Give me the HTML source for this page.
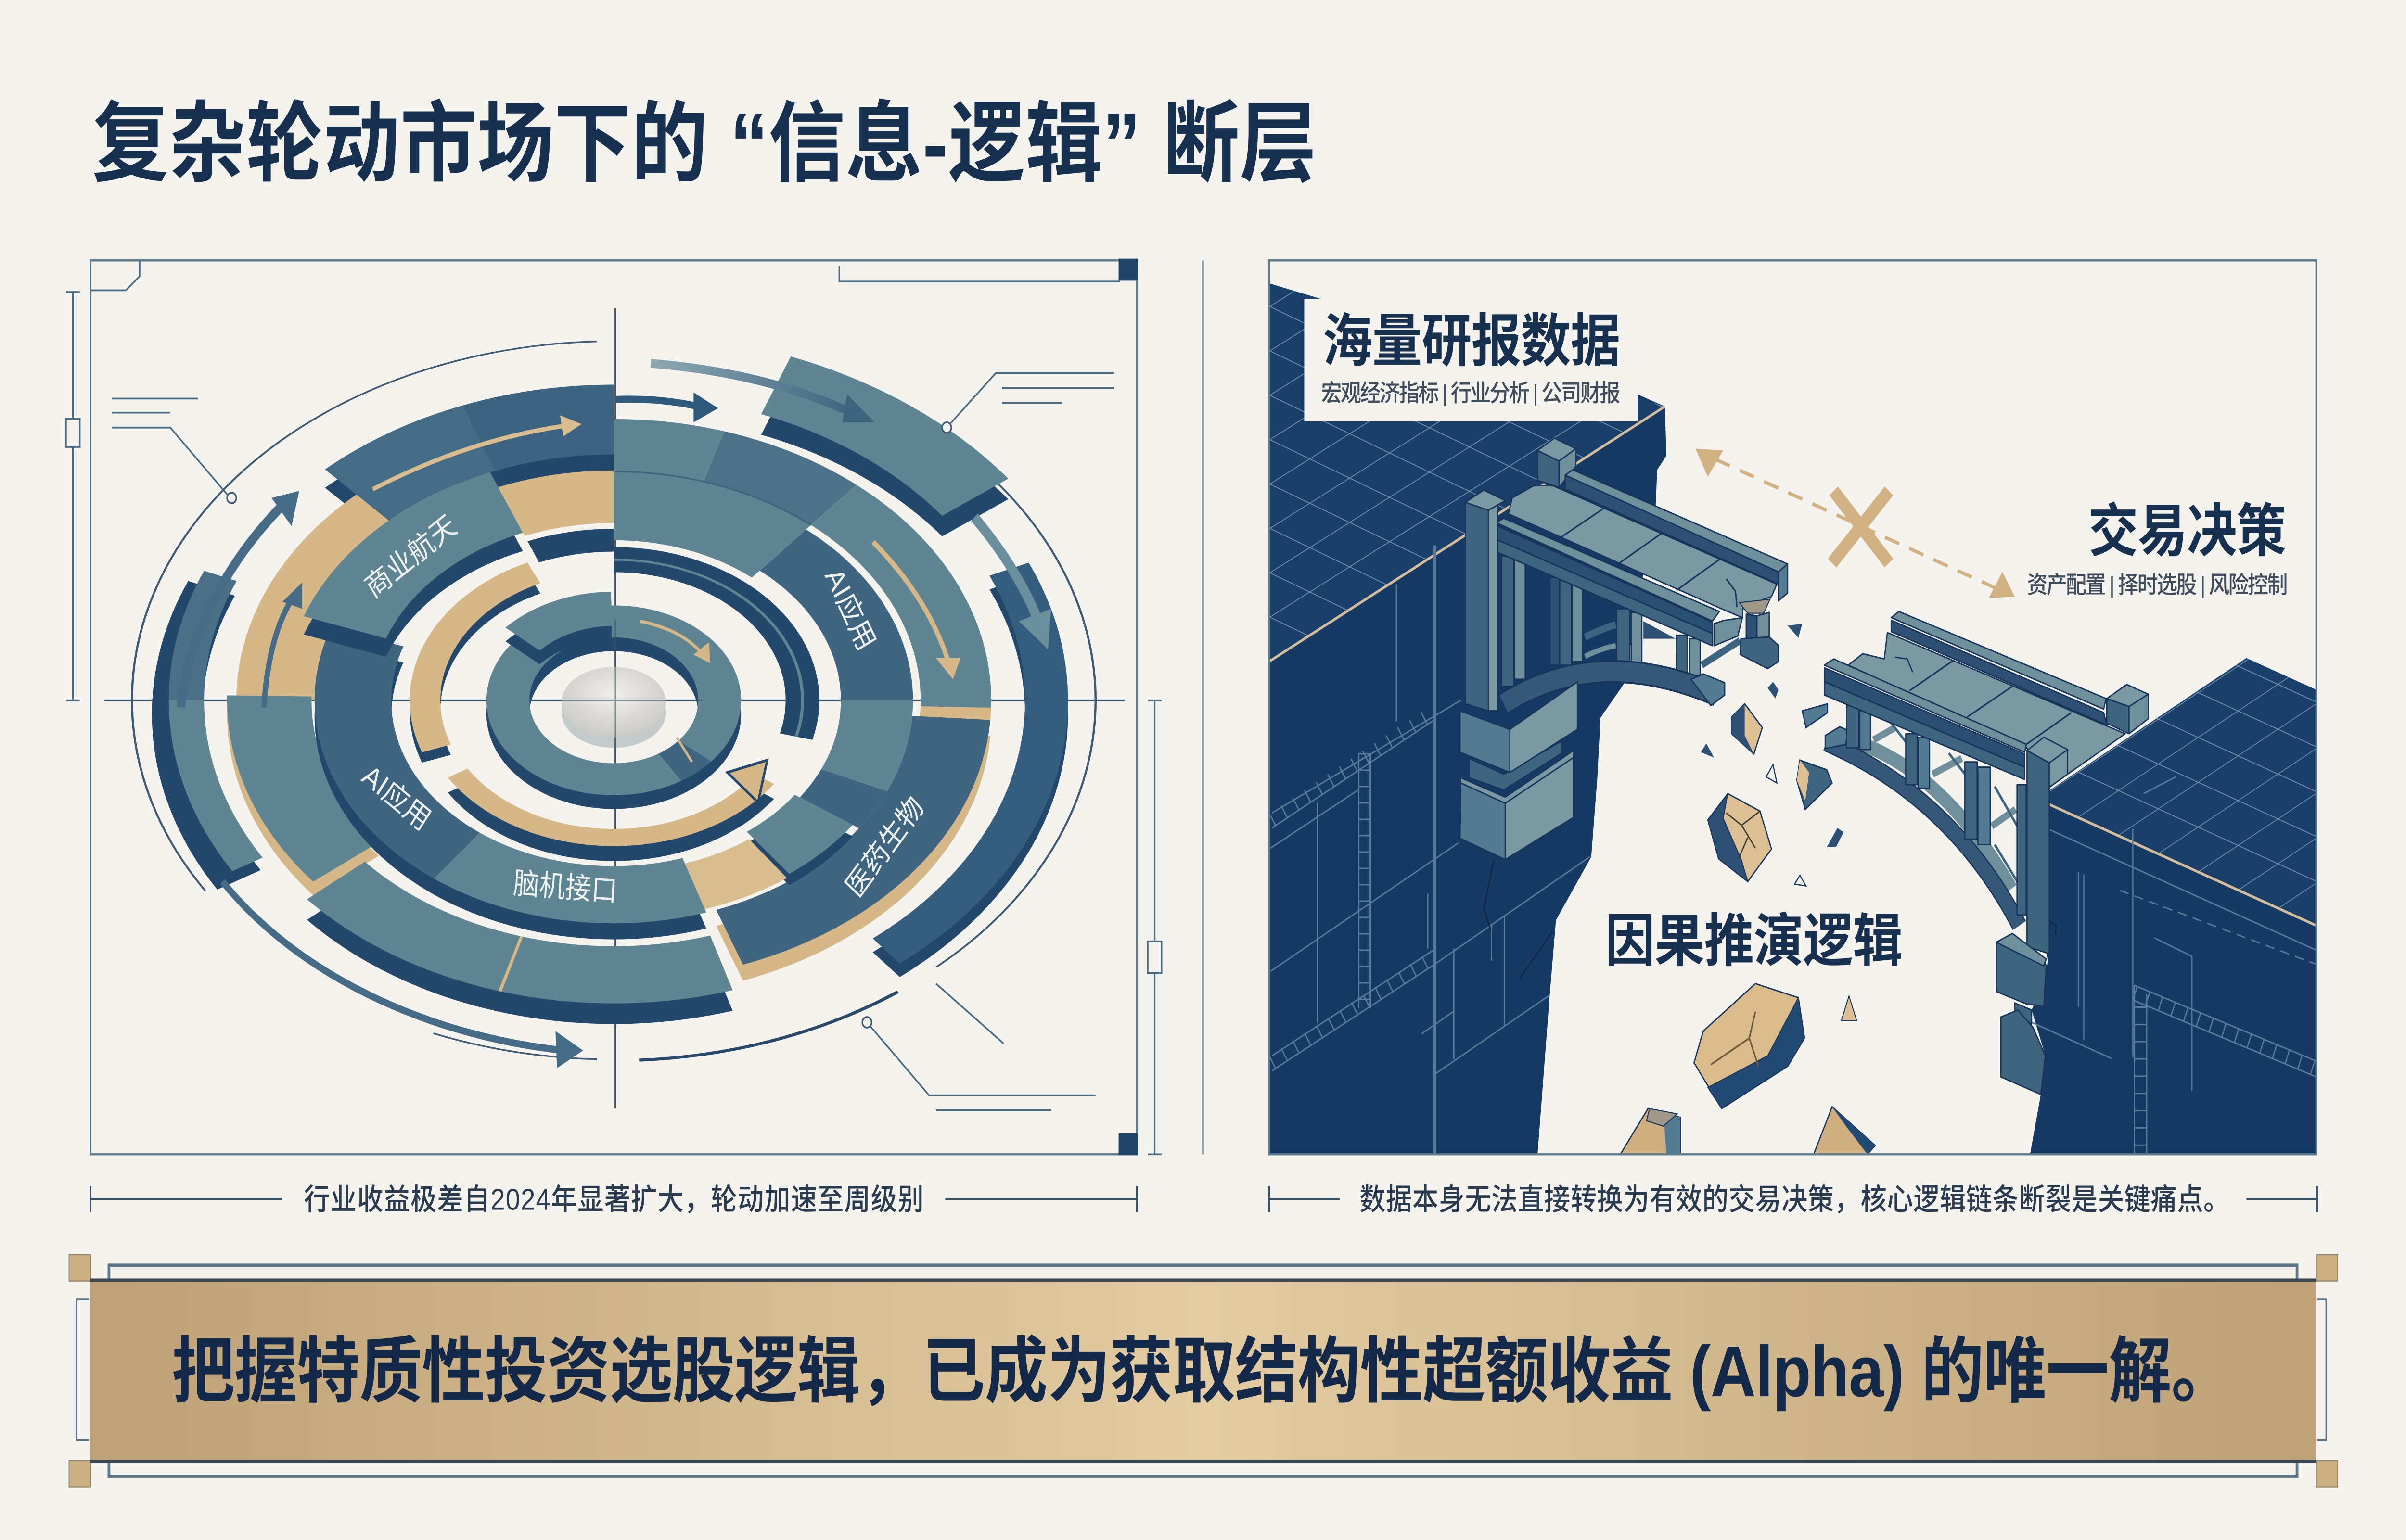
<!DOCTYPE html>
<html lang="zh"><head><meta charset="utf-8"><title>复杂轮动市场下的“信息-逻辑”断层</title>
<style>
html,body{margin:0;padding:0;background:#f4f3ee;width:100%;height:100%;overflow:hidden}
svg{display:block;position:fixed;left:0;top:0;width:100vw;height:100vh}
text{font-family:"Liberation Sans","Noto Sans CJK SC",sans-serif}
.d circle{fill:none}
.ln{fill:none;stroke:#4a6a80;stroke-width:1}
.br{stroke:#17345a;stroke-width:.8;stroke-linejoin:round}
.sl{fill:none;stroke:#5a7c9c;stroke-width:.8}
</style></head><body>
<svg xmlns="http://www.w3.org/2000/svg" viewBox="0 0 1568 875.2" preserveAspectRatio="none">
<defs>
<linearGradient id="ban" x1="0" x2="1" y1="0" y2="0"><stop offset="0" stop-color="#bea176"/><stop offset=".5" stop-color="#e3cca2"/><stop offset="1" stop-color="#bea176"/></linearGradient>
<linearGradient id="fade" x1="0" x2="1" y1="0" y2="0"><stop offset="0" stop-color="#8fa9b3"/><stop offset="1" stop-color="#3f6480"/></linearGradient>
<radialGradient id="disc" cx=".5" cy=".4" r=".7"><stop offset="0" stop-color="#f0efeb"/><stop offset="1" stop-color="#c4c4c1"/></radialGradient>
<pattern id="g1" width="26" height="26" patternUnits="userSpaceOnUse" patternTransform="matrix(1,-.55,1,.42,827,376)"><path d="M0 0H26M0 0V26" stroke="#7391ad" stroke-width="1.1" fill="none"/></pattern>
<pattern id="g2" width="26" height="26" patternUnits="userSpaceOnUse" patternTransform="matrix(1,-.58,1,.4,1328,454)"><path d="M0 0H26M0 0V26" stroke="#7391ad" stroke-width="1.1" fill="none"/></pattern>
</defs>
<rect width="1568" height="875.2" fill="#f4f3ee"/>

<!-- Title -->
<text x="60" y="99" font-size="50" font-weight="700" fill="#17304f" textLength="798">复杂轮动市场下的 “信息-逻辑” 断层</text>

<!-- Left panel frame -->
<rect x="59" y="148" width="682" height="508" fill="none" stroke="#5d7b8c" stroke-width="1.2"/>
<path class="ln" d="M59 165H82L91 157V148"/>
<path class="ln" d="M547 151V160H730"/>
<rect x="729" y="147" width="12.5" height="12.5" fill="#1f4468"/>
<rect x="729" y="644" width="12.5" height="12.5" fill="#1f4468"/>
<path class="ln" d="M43 166H52M47.5 166V398M43 398H52M748 398H757M752.5 398V656M748 656H757"/>
<rect x="43" y="238" width="9" height="16" fill="#f4f3ee" stroke="#4a6a80"/>
<rect x="748" y="535" width="9" height="18" fill="#f4f3ee" stroke="#4a6a80"/>
<path d="M784 148V656" stroke="#4a6a80" stroke-width="1" fill="none"/>
<!-- crosshair -->
<path d="M401 175V630M68 398H733" stroke="#35536c" stroke-width="1" fill="none"/>
<!-- callouts -->
<path class="ln" d="M73 226.5H129M73 234.5H111M73 243H111L150 283"/>
<path class="ln" d="M726 212H649L617 243M653 220.5H726M653 229H692"/>
<path class="ln" d="M565 581L605.500 622.500H714M610 631H685M610 559L654 593"/>

<!-- Disk -->
<g class="d" transform="translate(400,398) scale(1,.65)">
 <g stroke="#3f5a72" stroke-width="1.4">
  <circle r="314" pathLength="360" stroke-dasharray="120 360" transform="rotate(148)"/>
  <circle r="314" pathLength="360" stroke-dasharray="20 360" transform="rotate(92)"/>
  <circle r="314" pathLength="360" stroke-dasharray="85 360" transform="rotate(323)"/>
 </g>
 <circle r="315" stroke="#2a4a6b" stroke-width="2.6" pathLength="360" stroke-dasharray="33 360" transform="rotate(54)"/>

 <g stroke="#23486c">
  <circle r="281.500" stroke-width="33" pathLength="360" stroke-dasharray="54 360" transform="translate(-3,12) rotate(149)"/>
  <circle r="282" stroke-width="28" pathLength="360" stroke-dasharray="75 360" transform="translate(0,12) rotate(336)"/>
  <circle r="295" stroke-width="54" pathLength="360" stroke-dasharray="32 360" transform="translate(0,18) rotate(291)"/>
  <circle r="245.500" stroke-width="61" pathLength="360" stroke-dasharray="43 360" transform="translate(0,16) rotate(227)"/>
  <circle r="240" stroke-width="50" pathLength="360" stroke-dasharray="66 360" transform="translate(0,18) rotate(73)"/>
 </g>
 <circle r="220.500" stroke="#d6b788" stroke-width="51" pathLength="360" stroke-dasharray="62 360" transform="rotate(180)"/>
 <circle r="178" stroke="#d6b788" stroke-width="46" pathLength="360" stroke-dasharray="22 360" transform="rotate(248)"/>
 <circle r="140" stroke="#23486c" stroke-width="20" pathLength="360" stroke-dasharray="22 360" transform="rotate(248)"/>
 <circle r="223" stroke="#5f8592" stroke-width="46" pathLength="360" stroke-dasharray="17 360" transform="rotate(270)"/>
 <circle r="223" stroke="#4d7186" stroke-width="46" pathLength="360" stroke-dasharray="23 360" transform="rotate(287)"/>
 <circle r="223" stroke="#5f8592" stroke-width="46" pathLength="360" stroke-dasharray="52 360" transform="rotate(310)"/>
 <circle r="223" stroke="#d6b788" stroke-width="46" pathLength="360" stroke-dasharray="3 360" transform="rotate(1.500)"/>
 <circle r="220.500" stroke="#d6b788" stroke-width="51" pathLength="360" stroke-dasharray="66 360" transform="translate(0,14) rotate(4)"/>
 <circle r="220.500" stroke="#3f6580" stroke-width="51" pathLength="360" stroke-dasharray="66 360" transform="rotate(4)"/>
 <circle r="224.500" stroke="#d6b788" stroke-width="55" pathLength="360" stroke-dasharray="40 360" transform="translate(0,12) rotate(141)"/>
 <circle r="224.500" stroke="#5f8592" stroke-width="55" pathLength="360" stroke-dasharray="40 360" transform="rotate(141)"/>

 <circle r="278.500" stroke="#5f8592" stroke-width="23" pathLength="360" stroke-dasharray="31 360" transform="rotate(149)"/>
 <circle r="278.500" stroke="#4a6f87" stroke-width="23" pathLength="360" stroke-dasharray="23 360" transform="rotate(180)"/>
 <circle r="282" stroke="#355d7d" stroke-width="28" pathLength="360" stroke-dasharray="75 360" transform="rotate(336)"/>
 <circle r="295" stroke="#5f8592" stroke-width="54" pathLength="360" stroke-dasharray="32 360" transform="rotate(291)"/>
 <circle r="245.500" stroke="#456c86" stroke-width="61" pathLength="360" stroke-dasharray="22 360" transform="rotate(227)"/>
 <circle r="245.500" stroke="#3c6480" stroke-width="61" pathLength="360" stroke-dasharray="21 360" transform="rotate(249)"/>
 <circle r="240" stroke="#5f8592" stroke-width="50" pathLength="360" stroke-dasharray="66 360" transform="rotate(73)"/>
 <circle r="240" stroke="#d6b788" stroke-width="50" pathLength="360" stroke-dasharray=".5 360" transform="rotate(106)"/>

 <circle r="170" stroke="#5f8592" stroke-width="60" pathLength="360" stroke-dasharray="40 360" transform="rotate(270)"/>
 <circle r="171.500" stroke="#3f6580" stroke-width="47" pathLength="360" stroke-dasharray="51 360" transform="rotate(310)"/>
 <circle r="171.500" stroke="#5f8592" stroke-width="47" pathLength="360" stroke-dasharray="24 360" transform="rotate(0)"/>
 <circle r="171.500" stroke="#3f6580" stroke-width="47" pathLength="360" stroke-dasharray="11 360" transform="rotate(24)"/>
 <circle r="167" stroke="#23486c" stroke-width="46" pathLength="360" stroke-dasharray="18 360" transform="translate(0,10) rotate(35)"/>
 <circle r="167" stroke="#5f8592" stroke-width="46" pathLength="360" stroke-dasharray="18 360" transform="rotate(35)"/>
 <circle r="171" stroke="#d9bd8f" stroke-width="42" pathLength="360" stroke-dasharray="18 360" transform="rotate(54)"/>
 <circle r="170" stroke="#23486c" stroke-width="50" pathLength="360" stroke-dasharray="127 360" transform="translate(0,14) rotate(72)"/>
 <circle r="170" stroke="#3f6580" stroke-width="50" pathLength="360" stroke-dasharray="72 360" transform="rotate(127)"/>
 <circle r="170" stroke="#5f8592" stroke-width="50" pathLength="360" stroke-dasharray="55 360" transform="rotate(72)"/>
 <circle r="186.500" stroke="#23486c" stroke-width="57" pathLength="360" stroke-dasharray="48 360" transform="translate(0,16) rotate(200)"/>
 <circle r="186.500" stroke="#5f8592" stroke-width="57" pathLength="360" stroke-dasharray="48 360" transform="rotate(200)"/>
 <circle r="200" stroke="#3f6580" stroke-width="1.4" pathLength="360" stroke-dasharray="40 360" transform="rotate(270)"/>

 <circle r="123" stroke="#23486c" stroke-width="22" pathLength="360" stroke-dasharray="105 360" transform="rotate(270)"/>
 <circle r="123" stroke="#5f8592" stroke-width="2" pathLength="360" stroke-dasharray="105 360" transform="rotate(270)"/>
 <circle r="123" stroke="#23486c" stroke-width="20" pathLength="360" stroke-dasharray="85 360" transform="translate(0,9) rotate(160)"/>
 <circle r="123" stroke="#d6b788" stroke-width="20" pathLength="360" stroke-dasharray="85 360" transform="rotate(160)"/>
 <circle r="120" stroke="#23486c" stroke-width="15" pathLength="360" stroke-dasharray="113 360" transform="translate(0,13) rotate(35)"/>
 <circle r="120" stroke="#d6b788" stroke-width="15" pathLength="360" stroke-dasharray="113 360" transform="rotate(35)"/>

 <circle r="69" stroke="#23486c" stroke-width="28" transform="translate(0,12)"/>
 <circle r="69" stroke="#5f8592" stroke-width="28"/>
 <circle r="69" stroke="#3f6580" stroke-width="28" pathLength="360" stroke-dasharray="18 360" transform="rotate(40)"/>
 <circle r="80" stroke="#23486c" stroke-width="30" pathLength="360" stroke-dasharray="47 360" transform="translate(0,12) rotate(222)"/>
 <circle r="80" stroke="#5f8592" stroke-width="30" pathLength="360" stroke-dasharray="47 360" transform="rotate(222)"/>
</g>
<ellipse cx="400" cy="405" rx="34" ry="20" fill="#8c9a9f" opacity=".45"/>
<ellipse cx="400" cy="399" rx="34" ry="20" fill="url(#disc)"/>
<path d="M401 352V430M345 398H458" stroke="#35536c" stroke-width=".8" opacity=".6" fill="none"/>
<path d="M441 419L451 433" stroke="#d6b788" stroke-width="1.5" fill="none"/>

<path d="M118 402C122 360 150 318 182 289" fill="none" stroke="#456b87" stroke-width="5.500"/><polygon points="195,279 177,283 190,299" fill="#456b87"/>
<path d="M145 501C200 560 290 590 368 597" fill="none" stroke="#456b87" stroke-width="4"/><polygon points="380,597 362,586 363,607" fill="#456b87"/>
<path d="M401 227Q430 226 455 231" fill="none" stroke="#2f5a7c" stroke-width="4"/><polygon points="468,232 452,223 452,240" fill="#2f5a7c"/>
<path d="M424 206.500Q500 212 556 235" fill="none" stroke="url(#fade)" stroke-width="5"/><polygon points="570,240 552,224 549,240" fill="#3f6480"/>
<path d="M635 294Q665 325 679 358" fill="none" stroke="#6b8f9d" stroke-width="6"/><polygon points="683,369 664,353 685,346" fill="#6b8f9d"/>
<path d="M243 278Q305 250 368 242" fill="none" stroke="#d9bd8f" stroke-width="2.500"/><polygon points="379,241 365,236 367,248" fill="#d9bd8f"/>
<path d="M172 402Q175 360 192 338" fill="none" stroke="#456b87" stroke-width="3.500"/><polygon points="197,331 184,342 197,346" fill="#456b87"/>
<path d="M569 308Q605 340 618 376" fill="none" stroke="#d6b788" stroke-width="3"/><polygon points="621,386 610,374 626,374" fill="#d6b788"/>
<path d="M417 353Q445 358 458 372" fill="none" stroke="#d6b788" stroke-width="1.800"/><polygon points="463,377 452,372 462,365" fill="#d6b788"/>
<polygon points="474,439 500,432 494,456" fill="#d6b788" stroke="#23486c" stroke-width="1.500"/>
<circle cx="151" cy="283" r="3" fill="#f4f3ee" stroke="#3f5a72"/><circle cx="617" cy="243" r="3" fill="#f4f3ee" stroke="#3f5a72"/><circle cx="565" cy="581" r="3" fill="#f4f3ee" stroke="#3f5a72"/>

<g fill="#eef2f1" font-size="17" text-anchor="middle">
<text transform="translate(271,321) rotate(-35)">商业航天</text>
<text transform="translate(549,349) rotate(62)">AI应用</text>
<text transform="translate(255,458) rotate(36)">AI应用</text>
<text transform="translate(368,510) rotate(4)">脑机接口</text>
<text transform="translate(581,485) rotate(-50)">医药生物</text>
</g>

<!-- left cliff -->
<polygon points="827,161 1067,224 1085,231 1086,259 1080,267 1079,287 1058,389 1043,408 1041,442 1037,487 1014,523 1010,565 1002,656 827,656" fill="#163a63"/>
<polygon points="827,161 1085,231 827,376" fill="#1a3f6a"/>
<polygon points="827,161 1085,231 827,376" fill="url(#g1)"/>
<path d="M827 376L1085 231" stroke="#d3bd9c" stroke-width="1.500" fill="none"/>
<path class="sl" d="M829 462L952 398M829 470.500L935 409M828 552L950.500 479M935 548L1036 487M935 610.500L1010 565.500M828 482L885 449M858.500 456V581M947.500 539V602M980.500 521V583M972 525V546M930.500 508V539M926.500 587.500L947 575M910 332V410"/>
<path class="sl" d="M829 600L935 539.500M829 608.500L935 548"/>
<path d="M935 310V656" stroke="#5a7c9c" stroke-width="1.700" fill="none"/>
<path d="M885.500 428V573M893 428V573" stroke="#5a7c9c" stroke-width=".9" fill="none"/>
<path d="M889 428V573" stroke="#5a7c9c" stroke-width="7.500" stroke-dasharray=".8 8.500" fill="none"/>
<path d="M829 466L935 404" stroke="#5a7c9c" stroke-width="8" stroke-dasharray=".8 8" fill="none"/>
<path d="M829 604L935 543.500" stroke="#5a7c9c" stroke-width="8" stroke-dasharray=".8 8" fill="none"/>
<path d="M973.500 489L967 516L971.500 529M1012 529L990.500 556" stroke="#0f2a4c" fill="none" stroke-width="1"/>

<!-- right cliff -->
<polygon points="1327.500,454 1464,374 1509.500,392 1509.500,656 1323,656 1330,622 1333,600 1324,574 1332.500,558 1334.500,546 1329,516 1327.500,494 1332.500,480 1329,476" fill="#163a63"/>
<polygon points="1327.500,454 1464,374 1509.500,392 1509.500,526" fill="#1a3f6a"/>
<polygon points="1327.500,454 1464,374 1509.500,392 1509.500,526" fill="url(#g2)"/>
<path d="M1327.500 454L1509.500 526" stroke="#d3bd9c" stroke-width="1.500" fill="none"/>
<path class="sl" d="M1328 468.500L1509.500 540M1354.500 495.500V572M1358 497V591M1390 471V601M1404 533L1428.500 543.500M1428.500 543.500V620M1391 560L1509.500 603M1391 568.700L1509.500 612M1391 560V656M1399 565V656M1324 581L1376 601.500M1397 451L1418 441.500"/>
<path d="M1381.500 506L1509.500 548" stroke="#5a7c9c" stroke-width=".8" stroke-dasharray="6 4" fill="none"/>
<path d="M1391 564.500L1509.500 607.500" stroke="#5a7c9c" stroke-width="8" stroke-dasharray=".8 8" fill="none"/>
<path d="M1395 572V656" stroke="#5a7c9c" stroke-width="7.500" stroke-dasharray=".8 9" fill="none"/>
<path d="M1331.500 521L1340 526L1339.500 531" stroke="#0f2a4c" fill="none" stroke-width="1"/>

<!-- left bridge: back post -->
<polygon class="br" points="1002,256 1016,262 1016,277 1002,273" fill="#3f6480"/>
<polygon class="br" points="1016,262 1027,255 1027,265 1016,277" fill="#6f8f9a"/>
<polygon class="br" points="1002,256 1013,249 1027,255 1016,262" fill="#7a99a3"/>
<!-- window + panel -->
<polygon points="1071,353 1092,363 1092,373 1071,365" fill="#2e5075"/>
<polygon points="1071,363 1092,363 1092,374 1071,371" fill="#f4f3ee"/>
<!-- verticals -->
<g class="br">
<rect x="978.500" y="316" width="8" height="74" fill="#3f6480"/><rect x="987" y="318" width="7" height="68" fill="#6f8f9a"/>
<rect x="1010" y="328" width="7" height="50" fill="#2e5075"/><rect x="1016.500" y="330" width="7.500" height="48" fill="#3f6480"/><rect x="1024.500" y="332" width="7" height="44" fill="#6f8f9a"/>
<rect x="1053.500" y="346" width="8.500" height="32" fill="#3f6480"/><rect x="1063" y="348" width="7" height="30" fill="#6f8f9a"/>
<rect x="1092.500" y="361" width="7" height="25" fill="#3f6480"/><rect x="1101" y="363" width="7" height="24" fill="#6f8f9a"/>
</g>
<path d="M1033 362Q1045 357 1053 355" stroke="#3f6480" stroke-width="4" fill="none"/>
<path d="M1033 373Q1045 368 1053 367" stroke="#6f8f9a" stroke-width="3" fill="none"/>
<!-- back beam -->
<polygon class="br" points="1020,270 1159,325 1159,332 1020,278" fill="#2e5075"/>
<polygon class="br" points="1020,270 1025,267 1165,320.500 1159,325" fill="#6f8f9a"/>
<polygon class="br" points="1159,325 1165,320.500 1165,337 1159,341.500" fill="#527a90"/>
<!-- deck -->
<polygon class="br" points="983,292 985.500,283 999.500,276 1012,276 1158,332 1154.500,339 1136,345 1135.500,351 1122,346" fill="#7a99a3"/>
<path d="M1017 305.500L1045 289M1054.500 320.500L1083 303M1092.500 335.500L1120.500 318" stroke="#17345a" stroke-width=".9" fill="none"/>
<path d="M1125 329L1131 336L1132 345" stroke="#17345a" fill="none" stroke-width=".9"/>
<polygon points="1133.500,342.500 1153.500,340.500 1149.500,348.500 1139,348.500" fill="#a09888" stroke="#17345a" stroke-width=".6"/>
<!-- front beam -->
<polygon class="br" points="975,297 980,294.500 1120.500,347.500 1116,353" fill="#6f8f9a"/>
<polygon class="br" points="975,298.500 1116,353.500 1116,360 975,306.500" fill="#2b4f73"/>
<polygon class="br" points="975,306.500 1116,360 1116,367 975,313.500" fill="#3f6480"/>
<polygon class="br" points="1117,354.500 1123,352.700 1135.500,351 1132.500,361.500 1117,367" fill="#6f8f9a"/>
<!-- T-end -->
<path d="M1109 378L1134 364" stroke="#3f6480" stroke-width="4" fill="none"/>
<polygon class="br" points="1138,349 1145,350 1145,366 1138,364" fill="#2e5075"/>
<polygon class="br" points="1145,350 1153,348 1153,366 1145,366" fill="#6f8f9a"/>
<polygon class="br" points="1134.500,363 1153,362 1159,366.700 1159,376 1152,380 1134,372" fill="#3f6480"/>
<!-- arch -->
<path d="M980 400Q1041 366 1119 395" fill="none" stroke="#17345a" stroke-width="13"/>
<path d="M980 400Q1041 366 1119 395" fill="none" stroke="#36597a" stroke-width="11"/>
<polygon class="br" points="1102,386 1110,383 1124,388 1124,395 1115,401" fill="#527a90"/>
<!-- front post -->
<polygon class="br" points="955,285.500 970,290 970,404 955,400" fill="#3f6480"/>
<polygon class="br" points="970,290 976,287 976,404 970,404" fill="#7a99a3"/>
<polygon class="br" points="955,285.500 967,278.500 981,284.500 970,290" fill="#7a99a3"/>
<!-- piers -->
<polygon class="br" points="957.500,431 980,440 1018,421 1018,428 980,449 957.500,442" fill="#3f6480"/>
<polygon class="br" points="951.500,404 984,414.500 984,439 951.500,427.500" fill="#527a90"/>
<polygon class="br" points="984,414.500 1028,387.500 1028,414.500 984,439" fill="#7a99a3"/>
<polygon class="br" points="952,442 981,453 1025.500,426.500 1025.500,430.500 981,456.500 952,445" fill="#7a99a3"/>
<polygon class="br" points="952,445 981,456.500 981,488.500 951.500,476.500" fill="#527a90"/>
<polygon class="br" points="981,456.500 1025.500,430.500 1025.500,464.500 981,488.500" fill="#7a99a3"/>

<!-- right bridge -->
<polygon class="br" points="1232.500,352.500 1371,405 1373,412 1232.500,359" fill="#2e5075"/>
<polygon class="br" points="1232.500,351 1237.500,347.500 1372.500,397 1371,403" fill="#6f8f9a"/>
<path d="M1221 420.500L1235 413.500M1259.500 440L1278.500 431M1298 469.500L1313.500 460" stroke="#6f8f9a" stroke-width="4" fill="none"/>
<path d="M1230 408L1245 425M1270 428L1285 445M1300 447L1315 470M1300 480L1316 503" stroke="#3f6480" stroke-width="1.500" fill="none"/>
<path d="M1214 423Q1268 441 1311 505" fill="none" stroke="#6f8f9a" stroke-width="8"/>
<path d="M1190 422Q1272 453 1316 526" fill="none" stroke="#17345a" stroke-width="10"/>
<path d="M1190 422Q1272 453 1316 526" fill="none" stroke="#36597a" stroke-width="8.500"/>
<polygon class="br" points="1189.500,418 1199,413 1204,415 1203,423 1189.500,425.500" fill="#527a90"/>
<g class="br">
<rect x="1203.500" y="401" width="8" height="24" fill="#3f6480"/><rect x="1212" y="404" width="7" height="22" fill="#527a90"/>
<rect x="1242" y="417" width="7.500" height="29" fill="#3f6480"/><rect x="1250" y="419" width="7.500" height="29" fill="#527a90"/>
<rect x="1280.500" y="433" width="8" height="44" fill="#3f6480"/><rect x="1289" y="436" width="8" height="44" fill="#527a90"/>
</g>
<polygon class="br" points="1204.500,378 1214,371.500 1228,374.500 1230,359.500 1385,417 1336,447 1320,424" fill="#7a99a3"/>
<path d="M1244.500 392.500L1273.500 375M1282 407.500L1311.500 390M1320.500 423L1350 405" stroke="#17345a" stroke-width=".9" fill="none"/>
<path d="M1235 373.500L1243 374.500L1246.500 382" stroke="#17345a" stroke-width=".8" fill="none"/>
<polygon class="br" points="1189,378 1195,374.500 1320.500,423 1319.500,427.500" fill="#6f8f9a"/>
<polygon class="br" points="1189,379.500 1319.500,428.500 1319.500,436 1189,387.500" fill="#2b4f73"/>
<polygon class="br" points="1189,387.500 1319.500,436 1319.500,443 1189,395" fill="#3f6480"/>
<polygon class="br" points="1373,397 1387.500,401.500 1387.500,417 1373,411" fill="#3f6480"/>
<polygon class="br" points="1387.500,401.500 1400,394.500 1400,408.500 1387.500,417" fill="#6f8f9a"/>
<polygon class="br" points="1373,397 1386,389 1400,394.500 1387.500,401.500" fill="#7a99a3"/>
<rect class="br" x="1314.500" y="446" width="6" height="74" fill="#3f6480"/>
<polygon class="br" points="1321,426.500 1335.500,433.500 1335.500,542 1321,538" fill="#3f6480"/>
<polygon class="br" points="1335.500,433.500 1347.500,426 1347.500,440 1335.500,447.500" fill="#7a99a3"/>
<polygon class="br" points="1321,426.500 1332,419 1347.500,426 1335.500,433.500" fill="#7a99a3"/>
<polygon class="br" points="1301,535.500 1311.500,530.500 1333.500,548.500 1332,572 1320.500,570.500 1301,563.500" fill="#3f6480"/>
<polygon class="br" points="1301,535.500 1311.500,530.500 1333.500,545 1332,549" fill="#6f8f9a"/>
<polygon class="br" points="1313,570 1324,574 1324,582 1313,578" fill="#3f6480"/>
<polygon class="br" points="1304,578 1315,574 1325,584 1333,600 1330,622 1304,612" fill="#3f6480"/>

<!-- debris -->
<polygon points="1126,451 1147,461 1154.500,482.500 1139,501 1120,488 1113,466" fill="#dcbf93" stroke="#17345a" stroke-width=".8"/>
<polygon points="1113,466 1126,451 1123,465 1135,489 1139,501 1120,488" fill="#2e5075" stroke="#17345a" stroke-width=".6"/>
<path d="M1125 462L1135 469L1147 461M1135 469L1144 482M1139 476L1133 488" stroke="#3a3a30" fill="none" stroke-width=".8"/>
<polygon points="1144,559 1172,567 1176,590 1165,606 1122,630 1104,604 1110,586" fill="#d9bb8c" stroke="#17345a" stroke-width=".8"/>
<polygon points="1172,567 1176,590 1165,606 1122,630 1113,618 1152,600" fill="#234a72" stroke="#17345a" stroke-width=".6"/>
<path d="M1144 575L1140 590L1115 605M1140 590L1146 606" stroke="#6e5c3e" fill="none" stroke-width="1"/>
<polygon points="1074,630 1095,635 1095,656 1056,656" fill="#cfae80" stroke="#17345a" stroke-width=".8"/>
<polygon points="1084,633 1095,635 1095,656 1086,656" fill="#527a90"/>
<polygon points="1075,630 1093,633 1084,640 1073,637" fill="#a09888" stroke="#17345a" stroke-width=".6"/>
<polygon points="1194,629 1222,651 1217,656 1182,656" fill="#cfae80" stroke="#17345a" stroke-width=".8"/>
<polygon points="1194,629 1222,651 1217,656 1203,640" fill="#234a72"/>
<polygon points="1137,400 1148.500,413.500 1143,428.500 1128.500,417 1128.500,407.500" fill="#dcbf93" stroke="#17345a" stroke-width=".8"/>
<polygon points="1128.500,407.500 1137,400 1137,418 1143,428.500 1128.500,417" fill="#2e5075"/>
<polygon points="1173,432 1190.500,437.500 1194,445 1176.500,460 1171,443.500" fill="#3f6480" stroke="#17345a" stroke-width=".8"/>
<polygon points="1173,432 1179,439 1176.500,455 1171,443.500" fill="#dcbf93"/>
<polygon points="1174.500,404 1191,400 1191,405 1177,413.500" fill="#527a90" stroke="#17345a" stroke-width=".8"/>
<polygon points="1165,355.500 1174.500,354.500 1172,362.500" fill="#2e5075"/>
<polygon points="1152,391 1155.500,387.500 1159,392 1157,397" fill="#2e5075"/>
<polygon points="1108.500,427.500 1112,422.500 1117,430.500" fill="#2e5075"/>
<polygon points="1151,441.500 1155.500,434.500 1158,445" fill="#f4f3ee" stroke="#17345a" stroke-width=".7"/>
<polygon points="1190.500,481.500 1197.500,470.500 1201.500,473 1196.500,481.500" fill="#2e5075"/>
<polygon points="1169.500,502.500 1173,497.500 1177,503.500" fill="#f4f3ee" stroke="#17345a" stroke-width=".7"/>
<polygon points="1205,566 1210,580 1200,580" fill="#dcbf93" stroke="#17345a" stroke-width=".6"/>

<!-- dashed arrow & X -->
<path d="M1118 261L1300 334" stroke="#d2b283" stroke-width="2" stroke-dasharray="10 7" fill="none"/>
<polygon points="1105,255 1123,256 1113,271" fill="#d2b283"/>
<polygon points="1313,339 1296,340 1305,325" fill="#d2b283"/>
<path d="M1195 279L1231 320M1231 279L1194 320" stroke="#d2b283" stroke-width="7.500" fill="none"/>

<!-- right panel labels -->
<rect x="850" y="170" width="217.500" height="69.500" fill="#f4f3ee"/>
<text x="862" y="205" font-size="32.500" font-weight="700" fill="#17304f" textLength="194">海量研报数据</text>
<text x="861" y="228" font-size="13.500" font-weight="500" fill="#3f4c5c" textLength="195">宏观经济指标 | 行业分析 | 公司财报</text>
<text x="1361" y="313" font-size="32.500" font-weight="700" fill="#17304f" textLength="129">交易决策</text>
<text x="1321" y="337" font-size="13.500" font-weight="500" fill="#3f4c5c" textLength="170">资产配置 | 择时选股 | 风险控制</text>
<text x="1046" y="546" font-size="32.500" font-weight="700" fill="#17304f" textLength="194">因果推演逻辑</text>
<rect x="827" y="148" width="682.500" height="508" fill="none" stroke="#5d7b8c" stroke-width="1.200"/>

<!-- captions -->
<path d="M59 674V689M59 681.500H184M616 681.500H741M741 674V689" stroke="#3a5268" stroke-width="1.200" fill="none"/>
<path d="M827 674V689M827 681.500H873M1464 681.500H1510M1510 674V689" stroke="#3a5268" stroke-width="1.200" fill="none"/>
<text x="198" y="687.500" font-size="17" font-weight="500" fill="#2a3b4f" textLength="404">行业收益极差自2024年显著扩大，轮动加速至周级别</text>
<text x="886" y="687.500" font-size="17" font-weight="500" fill="#2a3b4f" textLength="567">数据本身无法直接转换为有效的交易决策，核心逻辑链条断裂是关键痛点。</text>

<!-- banner -->
<path d="M71 727V719H1497V727M71 831V839H1497V831" fill="none" stroke="#5b7485" stroke-width="1.800"/>
<path d="M58 738.500H50V818.500H58M1510 738.500H1516V818.500H1510" fill="none" stroke="#5b7485" stroke-width="1"/>
<rect x="45" y="713" width="14" height="15" fill="#cdb082" stroke="#8f8266" stroke-width=".6"/>
<rect x="1510" y="713" width="13.500" height="15" fill="#cdb082" stroke="#8f8266" stroke-width=".6"/>
<rect x="45" y="830" width="14" height="15" fill="#cdb082" stroke="#8f8266" stroke-width=".6"/>
<rect x="1510" y="830" width="13.500" height="15" fill="#cdb082" stroke="#8f8266" stroke-width=".6"/>
<rect x="58.600" y="728" width="1451" height="102" fill="url(#ban)"/>
<path d="M58.600 727.500H1509.600M58.600 830.500H1509.600" stroke="#3c4a58" stroke-width="1.800" fill="none"/>
<text x="112" y="793.500" font-size="41" font-weight="700" fill="#14294a" textLength="1344">把握特质性投资选股逻辑，已成为获取结构性超额收益 (Alpha) 的唯一解。</text>
</svg>
</body></html>
